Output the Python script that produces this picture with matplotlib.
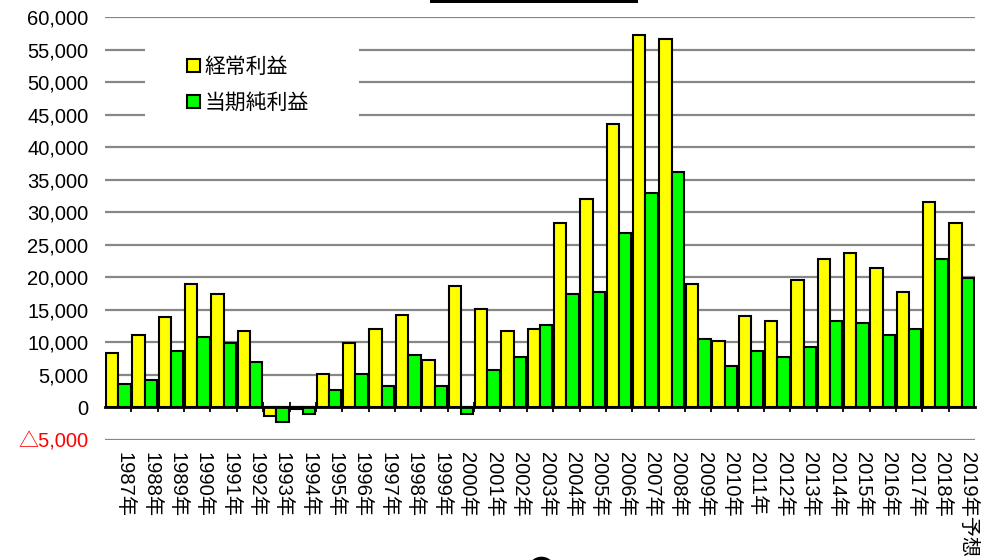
import matplotlib
matplotlib.use("Agg")
import matplotlib.pyplot as plt
import matplotlib.transforms as mtransforms
from matplotlib.patches import Rectangle, Circle
import numpy as np

plt.rcParams['font.family'] = ['Liberation Sans', 'Noto Sans CJK JP', 'DejaVu Sans']

# data
years = [f"{y}年" for y in range(1987, 2019)] + ["2019年予想"]
keijo = [8300, 11100, 13900, 19000, 17400, 11800, -1300, -300, 5100, 9900,
         12100, 14200, 7300, 18600, 15200, 11800, 12100, 28400, 32100, 43500,
         57200, 56600, 19000, 10200, 14000, 13300, 19600, 22800, 23700, 21500,
         17700, 31500, 28400]
junri = [3600, 4200, 8600, 10800, 9900, 7000, -2300, -1000, 2700, 5100,
         3300, 8000, 3300, -1000, 5800, 7700, 12700, 17400, 17700, 26800,
         33000, 36200, 10500, 6400, 8600, 7700, 9300, 13300, 13000, 11100,
         12100, 22800, 19900]
yticks = list(range(-5000, 60001, 5000))

W, H = 984, 560
fig = plt.figure(figsize=(W / 100, H / 100), dpi=100)
ax = fig.add_axes([105 / W, 1 - 440 / H, 870 / W, 423 / H])

x = np.arange(len(years))
bw = 0.47
ax.bar(x - bw / 2, keijo, bw, color='#FFFF00', edgecolor='black',
       linewidth=1.5, label='経常利益', zorder=3)
ax.bar(x + bw / 2, junri, bw, color='#00FF00', edgecolor='black',
       linewidth=1.5, label='当期純利益', zorder=3)

ax.set_xlim(-0.5, len(years) - 0.5)
ax.set_ylim(-5000, 60000)

# y axis
ax.set_yticks(yticks)
ylabels = ["△5,000" if v < 0 else f"{v:,}" for v in yticks]
ax.set_yticklabels(ylabels, fontsize=14.5)
ax.get_yticklabels()[0].set_color('red')
ax.tick_params(axis='y', length=0, pad=12)
ax.grid(axis='y', color='#878787', linewidth=1.6)
ax.set_axisbelow(True)

# x axis: zero line with ticks on category boundaries
for s in ['left', 'right', 'top']:
    ax.spines[s].set_visible(False)
ax.spines['bottom'].set_position(('data', 0))
ax.spines['bottom'].set_linewidth(2)
ax.spines['bottom'].set_zorder(4)
ax.set_xticks(x)
ax.set_xticklabels(years, rotation=270, fontsize=14.5, va='top', ha='center')
ax.set_xticks(x[:-1] + 0.5, minor=True)
ax.tick_params(axis='x', which='major', length=0, pad=32)
ax.tick_params(axis='x', which='minor', length=7, width=1.3, direction='inout')
shift = mtransforms.ScaledTranslation(6 / 100, 0, fig.dpi_scale_trans)
for lab in ax.get_xticklabels():
    lab.set_transform(lab.get_transform() + shift)

# white box behind the legend (hides grid lines)
ax.add_patch(Rectangle((40 / 870, 0.7376), 214 / 870, 0.208,
                       transform=ax.transAxes, facecolor='white',
                       edgecolor='none', zorder=1.5))
leg = ax.legend(loc='upper left', bbox_to_anchor=(0.0943, 0.905),
                frameon=False, fontsize=15, handlelength=0.6,
                handleheight=0.6, handletextpad=0.25, labelspacing=0.8,
                borderpad=0, borderaxespad=0)
leg.set_zorder(6)

# title frame edge at top and mark at bottom (cut off in the reference)
fig.add_artist(Rectangle((430 / W, 1 - 3 / H), 208 / W, 3 / H,
                         transform=fig.transFigure, facecolor='black',
                         edgecolor='none'))
fig.add_artist(Circle((5.415, -0.107), 0.14, transform=fig.dpi_scale_trans,
                      facecolor='black', edgecolor='none'))

fig.savefig('out.png', dpi=100)
